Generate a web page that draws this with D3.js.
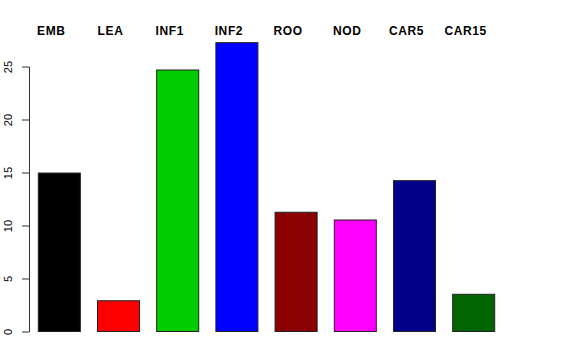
<!DOCTYPE html>
<html>
<head>
<meta charset="utf-8">
<script src="https://cdn.jsdelivr.net/npm/d3@7"></script>
<style>
  body { margin: 0; background: #fff; }
  svg { display: block; }
</style>
</head>
<body>
<svg id="chart" width="576" height="360"></svg>
<script>
// tissue categories and values
const categories = ["EMB", "LEA", "INF1", "INF2", "ROO", "NOD", "CAR5", "CAR15"]
const values = [14.95, 2.9, 24.67, 27.25, 11.25, 10.52, 14.23, 3.51]
const barColors = ["#000000", "#ff0000", "#00cd00", "#0000ff", "#8b0000", "#ff00ff", "#00008b", "#006400"]
const yTicks = [0, 5, 10, 15, 20, 25]

const svg = d3.select("#chart")
const font = "'Liberation Sans', Arial, Helvetica, sans-serif"

// x: bars start at 38, step ~59
const x = d3.scaleBand()
  .domain(categories)
  .range([38.3, 494.7])
  .paddingInner(0.29)
  .paddingOuter(0)

// y: zero at ~331.5, 10.6 px per unit
const y = d3.scaleLinear()
  .domain([0, 25])
  .range([331.5, 66.5])

// bars
svg.append("g")
  .selectAll("rect")
  .data(values)
  .join("rect")
  .attr("x", (d, i) => x(categories[i]))
  .attr("y", (d) => y(d))
  .attr("width", x.bandwidth())
  .attr("height", (d) => y(0) - y(d))
  .attr("fill", (d, i) => barColors[i])
  .attr("stroke", "#222")
  .attr("stroke-width", 1)

// category labels on top
svg.append("g")
  .selectAll("text")
  .data(categories)
  .join("text")
  .attr("x", (d) => x(d) + x.bandwidth() / 2 - 8)
  .attr("y", 35)
  .attr("text-anchor", "middle")
  .style("font-family", font)
  .style("font-size", "12px")
  .style("font-weight", "bold")
  .style("letter-spacing", "0.6px")
  .text((d) => d)

// y axis, R style with rotated labels
const yAxis = svg.append("g")
  .attr("transform", "translate(29,0)")
  .call(d3.axisLeft(y).tickValues(yTicks).tickSize(7).tickSizeOuter(0))

yAxis.select(".domain").attr("stroke", "#333")
yAxis.selectAll(".tick line").attr("stroke", "#333")
yAxis.selectAll(".tick text")
  .attr("x", 0)
  .attr("dy", 0)
  .attr("transform", "translate(-17,0) rotate(-90)")
  .attr("text-anchor", "middle")
  .style("font-family", font)
  .style("font-size", "11px")
  .attr("fill", "#000")
</script>
</body>
</html>
